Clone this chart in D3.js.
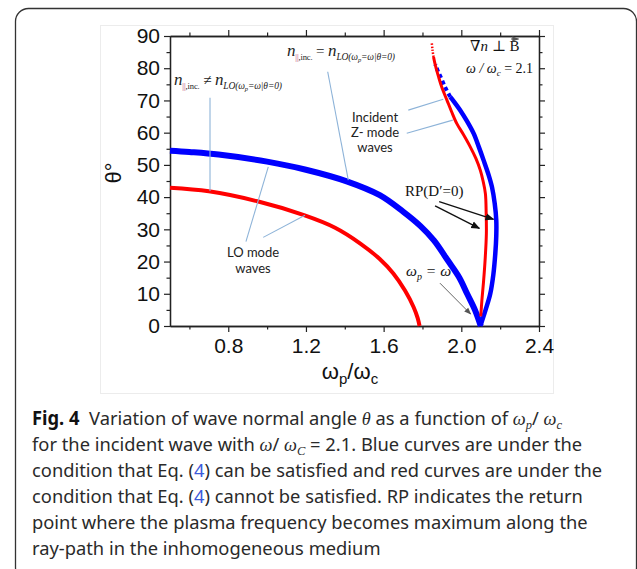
<!DOCTYPE html>
<html>
<head>
<meta charset="utf-8">
<script src="https://cdn.jsdelivr.net/npm/d3@7"></script>
<style>
  body { margin: 0; background: #fff; }
  svg { display: block; }
</style>
</head>
<body>
<div id="fig_div"></div>
<script>
// ---- data (x = wp/wc, y = theta in degrees) ----
const blueLO_x     = [0.50, 0.60, 0.75, 1.00, 1.20, 1.41, 1.58, 1.70, 1.79, 1.86, 1.93, 1.99, 2.03, 2.07, 2.10];
const blueLO_theta = [54.4, 54.0, 53.2, 51.0, 48.5, 44.9, 40.6, 35.5, 31.0, 26.5, 20.4, 15.0, 10.0, 5.0, 0.0];

const redLO_x     = [0.50, 0.70, 0.95, 1.19, 1.35, 1.48, 1.58, 1.65, 1.71, 1.754, 1.775, 1.785];
const redLO_theta = [42.9, 41.8, 38.7, 34.4, 30.5, 25.6, 20.8, 16.3, 11.0, 5.9, 2.5, 0.0];

const blueZ_x     = [2.098, 2.125, 2.149, 2.165, 2.175, 2.180, 2.180, 2.172, 2.158, 2.140, 2.115, 2.090, 2.064, 2.030, 1.995, 1.960, 1.943];
const blueZ_theta = [0.0, 5.0, 10.0, 16.0, 22.5, 28.0, 32.8, 38.0, 43.1, 47.0, 51.4, 55.6, 59.7, 63.5, 66.9, 69.8, 71.1];
// sparse (dotted) top part of the blue Z-mode branch
const blueZTop_x     = [1.943, 1.915, 1.892, 1.880, 1.866];
const blueZTop_theta = [71.1, 74.3, 77.5, 79.0, 81.2];

const redZ_x     = [2.100, 2.106, 2.115, 2.123, 2.129, 2.128, 2.124, 2.112, 2.098, 2.075, 2.046, 2.010, 1.977, 1.950, 1.926, 1.900, 1.883, 1.866, 1.857];
const redZ_theta = [3.0, 8.0, 14.2, 21.0, 28.7, 35.0, 41.1, 45.0, 48.3, 52.0, 55.6, 59.5, 62.8, 66.5, 70.1, 74.0, 77.3, 81.0, 83.5];
const redZTop_x     = [1.857, 1.852, 1.848];
const redZTop_theta = [83.5, 85.5, 87.8];

// axis ticks
const xMajorTicks = [0.8, 1.2, 1.6, 2.0, 2.4];
const xMinorTicks = [0.6, 1.0, 1.4, 1.8, 2.2];
const yMajorTicks = [0, 10, 20, 30, 40, 50, 60, 70, 80, 90];
const yMinorTicks = [5, 15, 25, 35, 45, 55, 65, 75, 85];

// leader lines [x1, theta1, x2, theta2] (data units)
const leaders = [
  [0.706, 70.8, 0.706, 41.9],
  [1.312, 78.9, 1.418, 45.3],
  [1.727, 67.0, 1.907, 70.4],
  [1.719, 59.8, 1.956, 63.9],
  [0.891, 26.2, 1.006, 49.4],
  [0.980, 27.5, 1.195, 34.4]
];
// arrows [x1, theta1, x2, theta2]
const rpArrows = [
  [1.886, 38.6, 2.166, 33.1],
  [1.865, 37.3, 2.093, 30.3]
];
const wpArrow = [1.890, 13.3, 2.048, 3.7];

const captionLines = [
  null, // line 1 built with math
  null, // line 2 built with math
  null,
  null,
  "point where the plasma frequency becomes maximum along the",
  "ray-path in the inhomogeneous medium"
];

// ---- layout ----
const W = 637, H = 569;
const plot = {left: 170, right: 539, top: 36, bottom: 326};
const serif = "'Liberation Serif', 'DejaVu Serif', serif";
const sans = "'Liberation Sans', Arial, sans-serif";
const capFont = "'Noto Sans', 'Open Sans', sans-serif";

const svg = d3.select("#fig_div").append("svg")
  .attr("width", W).attr("height", H);

const defs = svg.append("defs");
function addMarker(id, color, size) {
  defs.append("marker").attr("id", id)
    .attr("viewBox", "0 0 10 10").attr("refX", 9).attr("refY", 5)
    .attr("markerWidth", size).attr("markerHeight", size)
    .attr("markerUnits", "userSpaceOnUse")
    .attr("orient", "auto")
    .append("path").attr("d", "M0,1 L10,5 L0,9 Z").attr("fill", color);
}
addMarker("arrBlack", "#111", 9);
addMarker("arrGrey", "#555", 7);

// outer frame and faint image border
svg.append("rect").attr("x", 15.5).attr("y", 8.5).attr("width", 621).attr("height", 572)
  .attr("rx", 13).attr("fill", "none").attr("stroke", "#333").attr("stroke-width", 1.3);
svg.append("rect").attr("x", 100.5).attr("y", 25.5).attr("width", 453).attr("height", 368)
  .attr("fill", "none").attr("stroke", "#ececec").attr("stroke-width", 1);

// scales
const x = d3.scaleLinear().domain([0.5, 2.4]).range([plot.left, plot.right]);
const y = d3.scaleLinear().domain([0, 90]).range([plot.bottom, plot.top]);

const g = svg.append("g");

function styleAxis(sel) {
  sel.select(".domain").attr("stroke", "#222").attr("stroke-width", 1.3);
  sel.selectAll(".tick line").attr("stroke", "#222").attr("stroke-width", 1.2);
  sel.selectAll("text").style("font-family", sans).style("font-size", "21px").attr("fill", "#111");
}

// bottom
g.append("g").attr("transform", `translate(0,${plot.bottom})`)
  .call(d3.axisBottom(x).tickValues(xMajorTicks).tickFormat(d3.format(".1f"))
    .tickSize(6).tickSizeOuter(0).tickPadding(6)).call(styleAxis);
g.append("g").attr("transform", `translate(0,${plot.bottom})`)
  .call(d3.axisBottom(x).tickValues(xMinorTicks).tickFormat("").tickSize(3.5).tickSizeOuter(0)).call(styleAxis);
// top
g.append("g").attr("transform", `translate(0,${plot.top})`)
  .call(d3.axisTop(x).tickValues(xMajorTicks).tickFormat("").tickSize(6).tickSizeOuter(0)).call(styleAxis);
g.append("g").attr("transform", `translate(0,${plot.top})`)
  .call(d3.axisTop(x).tickValues(xMinorTicks).tickFormat("").tickSize(3.5).tickSizeOuter(0)).call(styleAxis);
// left
g.append("g").attr("transform", `translate(${plot.left},0)`)
  .call(d3.axisLeft(y).tickValues(yMajorTicks).tickSize(6).tickSizeOuter(0).tickPadding(4)).call(styleAxis);
g.append("g").attr("transform", `translate(${plot.left},0)`)
  .call(d3.axisLeft(y).tickValues(yMinorTicks).tickFormat("").tickSize(3.5).tickSizeOuter(0)).call(styleAxis);
// right
g.append("g").attr("transform", `translate(${plot.right},0)`)
  .call(d3.axisRight(y).tickValues(yMajorTicks).tickFormat("").tickSize(6).tickSizeOuter(0)).call(styleAxis);
g.append("g").attr("transform", `translate(${plot.right},0)`)
  .call(d3.axisRight(y).tickValues(yMinorTicks).tickFormat("").tickSize(3.5).tickSizeOuter(0)).call(styleAxis);

// axis titles
const xt = svg.append("text").attr("x", 350).attr("y", 379).attr("text-anchor", "middle")
  .style("font-family", sans).style("font-size", "22px").attr("fill", "#111");
xt.append("tspan").text("ω");
xt.append("tspan").attr("dy", 5).style("font-size", "15px").text("p");
xt.append("tspan").attr("dy", -5).text("/ω");
xt.append("tspan").attr("dy", 5).style("font-size", "15px").text("c");

svg.append("text").attr("transform", "translate(121,173) rotate(-90)")
  .attr("text-anchor", "middle").style("font-family", sans).style("font-size", "22px")
  .attr("fill", "#111").text("θ°");

// curves
const line = d3.line().x(d => x(d[0])).y(d => y(d[1])).curve(d3.curveCatmullRom.alpha(0.5));
const zip = (a, b) => a.map((v, i) => [v, b[i]]);

g.append("path").datum(zip(redLO_x, redLO_theta)).attr("d", line)
  .attr("fill", "none").attr("stroke", "#ff0000").attr("stroke-width", 4);
g.append("path").datum(zip(blueLO_x, blueLO_theta)).attr("d", line)
  .attr("fill", "none").attr("stroke", "#0000ff").attr("stroke-width", 6);
g.append("path").datum(zip(blueZ_x, blueZ_theta)).attr("d", line)
  .attr("fill", "none").attr("stroke", "#0000ff").attr("stroke-width", 4.5);
g.append("path").datum(zip(blueZTop_x, blueZTop_theta)).attr("d", line)
  .attr("fill", "none").attr("stroke", "#0000ff").attr("stroke-width", 4)
  .attr("stroke-dasharray", "4,3");
g.append("path").datum(zip(redZ_x, redZ_theta)).attr("d", line)
  .attr("fill", "none").attr("stroke", "#ff0000").attr("stroke-width", 3);
g.append("path").datum(zip(redZTop_x, redZTop_theta)).attr("d", line)
  .attr("fill", "none").attr("stroke", "#ff0000").attr("stroke-width", 2.5)
  .attr("stroke-dasharray", "1.5,1.5");

// leader lines
g.selectAll(".leader").data(leaders).join("line").attr("class", "leader")
  .attr("x1", d => x(d[0])).attr("y1", d => y(d[1]))
  .attr("x2", d => x(d[2])).attr("y2", d => y(d[3]))
  .attr("stroke", "#8db3d8").attr("stroke-width", 1.1);

// arrows
g.selectAll(".rp").data(rpArrows).join("line").attr("class", "rp")
  .attr("x1", d => x(d[0])).attr("y1", d => y(d[1]))
  .attr("x2", d => x(d[2])).attr("y2", d => y(d[3]))
  .attr("stroke", "#111").attr("stroke-width", 1.4).attr("marker-end", "url(#arrBlack)");
g.append("line")
  .attr("x1", x(wpArrow[0])).attr("y1", y(wpArrow[1]))
  .attr("x2", x(wpArrow[2])).attr("y2", y(wpArrow[3]))
  .attr("stroke", "#555").attr("stroke-width", 0.9).attr("marker-end", "url(#arrGrey)");

// annotations
function nLabel(px, py, rel) {
  const t = svg.append("text").attr("x", px).attr("y", py)
    .style("font-family", serif).attr("fill", "#222");
  t.append("tspan").style("font-style", "italic").style("font-size", "17px").text("n");
  t.append("tspan").attr("dy", 4).style("font-size", "8.5px").attr("fill", "#b0386a").text("||");
  t.append("tspan").style("font-size", "8.5px").text(",inc.");
  t.append("tspan").attr("dy", -4).style("font-size", "15px").text(" " + rel + " ");
  t.append("tspan").style("font-style", "italic").style("font-size", "17px").text("n");
  t.append("tspan").attr("dy", 4).style("font-style", "italic").style("font-size", "9.5px").text("LO(ω");
  t.append("tspan").attr("dy", 2).style("font-style", "italic").style("font-size", "6.5px").text("p");
  t.append("tspan").attr("dy", -2).style("font-style", "italic").style("font-size", "9.5px").text("=ω|θ=0)");
  t.attr("textLength", 108).attr("lengthAdjust", "spacing");
}
nLabel(174, 85, "≠");
nLabel(287, 56, "=");

// ∇n ⊥ B with vector arrow
const nab = svg.append("text").attr("x", 470).attr("y", 51)
  .style("font-family", serif).style("font-size", "15px").attr("fill", "#111");
nab.append("tspan").text("∇");
nab.append("tspan").style("font-style", "italic").text("n");
nab.append("tspan").text(" ⊥ B");
const bb = nab.node().getExtentOfChar(nab.node().getNumberOfChars() - 1);
svg.append("line").attr("x1", bb.x + 1.5).attr("x2", bb.x + bb.width - 1)
  .attr("y1", bb.y + 1).attr("y2", bb.y + 1)
  .attr("stroke", "#111").attr("stroke-width", 0.8).attr("marker-end", "url(#arrGrey)");

const wr = svg.append("text").attr("x", 466).attr("y", 73)
  .style("font-family", serif).style("font-size", "14px").attr("fill", "#111");
wr.append("tspan").style("font-style", "italic").text("ω / ω");
wr.append("tspan").attr("dy", 3).style("font-style", "italic").style("font-size", "9px").text("c");
wr.append("tspan").attr("dy", -3).text(" = 2.1");

svg.append("text").attr("x", 405).attr("y", 196)
  .style("font-family", serif).style("font-size", "15px").attr("fill", "#111").text("RP(D′=0)");

const wp = svg.append("text").attr("x", 406).attr("y", 276)
  .style("font-family", serif).style("font-size", "15.5px").style("font-style", "italic").attr("fill", "#111");
wp.append("tspan").text("ω");
wp.append("tspan").attr("dy", 4).style("font-size", "10px").text("p");
wp.append("tspan").attr("dy", -4).text(" = ω");

const lab = "'Lato', 'Open Sans', sans-serif";
[["Incident", 121.5], ["Z- mode", 137], ["waves", 152]].forEach(([s, yy]) => {
  svg.append("text").attr("x", 375).attr("y", yy).attr("text-anchor", "middle")
    .style("font-family", lab).style("font-size", "13px").attr("fill", "#222").text(s);
});
[["LO mode", 256.5], ["waves", 272.5]].forEach(([s, yy]) => {
  svg.append("text").attr("x", 253).attr("y", yy).attr("text-anchor", "middle")
    .style("font-family", lab).style("font-size", "13px").attr("fill", "#222").text(s);
});

// caption
const capX = 32, capY0 = 425, capDY = 26;
const cap = svg.append("g").style("font-family", capFont).style("font-size", "19px").attr("fill", "#2a2a2a");
const capRows = [];
for (let i = 0; i < 6; i++) {
  const row = cap.append("g").attr("transform", `translate(${capX},${capY0 + i * capDY})`);
  capRows.push(row.append("text").attr("x", 0).attr("y", 0).style("white-space", "pre"));
}
function mathSpan(t, s) {
  return t.append("tspan").style("font-family", serif).style("font-style", "italic").text(s);
}
function sub(t, s) {
  t.append("tspan").attr("dy", 4).style("font-family", serif).style("font-style", "italic")
    .style("font-size", "13px").text(s);
  return t.append("tspan").attr("dy", -4);
}
let t = capRows[0];
t.append("tspan").style("font-weight", "bold").attr("fill", "#111").text("Fig. 4");
t.append("tspan").text("  Variation of wave normal angle ");
mathSpan(t, "θ");
t.append("tspan").text(" as a function of ");
mathSpan(t, "ω");
sub(t, "p").text("/ ");
mathSpan(t, "ω");
sub(t, "c");

t = capRows[1];
t.append("tspan").text("for the incident wave with ");
mathSpan(t, "ω");
t.append("tspan").text("/ ");
mathSpan(t, "ω");
sub(t, "C").text(" = 2.1. Blue curves are under the");

t = capRows[2];
t.append("tspan").text("condition that Eq. (");
t.append("tspan").attr("fill", "#3b5bdb").text("4");
t.append("tspan").text(") can be satisfied and red curves are under the");

t = capRows[3];
t.append("tspan").text("condition that Eq. (");
t.append("tspan").attr("fill", "#3b5bdb").text("4");
t.append("tspan").text(") cannot be satisfied. RP indicates the return");

capRows[4].text(captionLines[4]);
capRows[5].text(captionLines[5]);

// condense the caption face so it fits the column like the original
const refW = capRows[4].node().getComputedTextLength();
const sx = (588 - capX) / refW;
capRows.forEach(r => r.attr("transform", `scale(${sx},1)`));
</script>
</body>
</html>
